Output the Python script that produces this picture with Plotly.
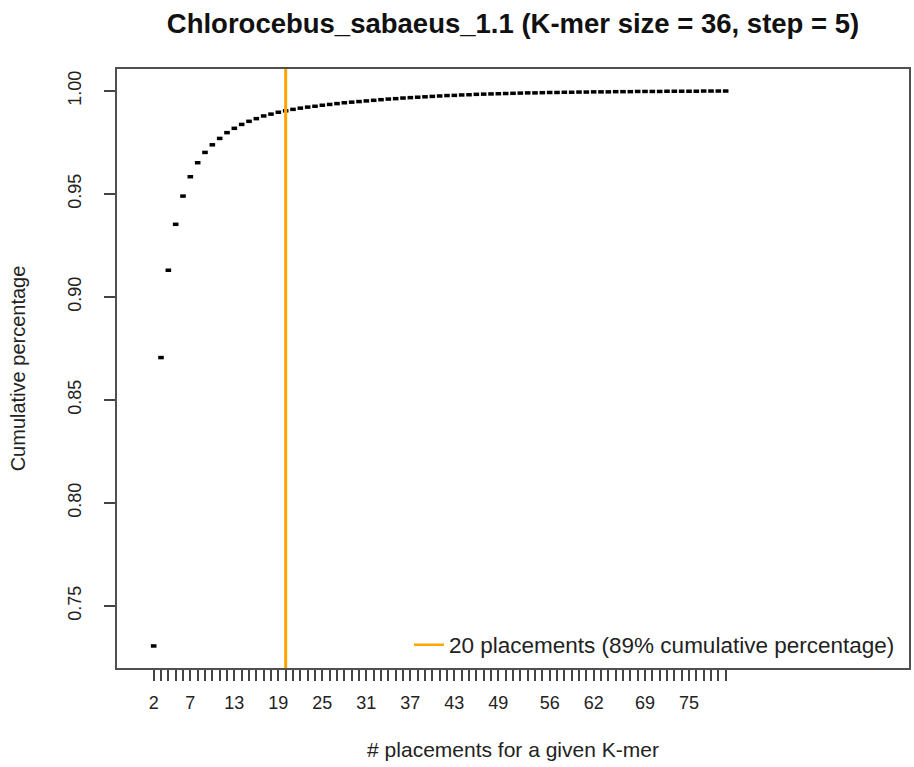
import plotly.graph_objects as go

# ---- data ----
placements = list(range(2, 81))
cumulative = [
    0.7306, 0.8706, 0.9130, 0.9353, 0.9490, 0.9584, 0.9652, 0.9702, 0.9739, 0.9770,
    0.9798, 0.9819, 0.9838, 0.9853, 0.9866, 0.9879, 0.9888, 0.9897, 0.9904, 0.9911,
    0.9917, 0.9922, 0.9926, 0.9931, 0.9935, 0.9939, 0.9943, 0.9946, 0.9949, 0.9952,
    0.9955, 0.9958, 0.9961, 0.9963, 0.9966, 0.9968, 0.9970, 0.9972, 0.9974, 0.9976,
    0.9978, 0.9979, 0.9981, 0.9982, 0.9984, 0.9985, 0.9986, 0.9987, 0.9988, 0.9989,
    0.9990, 0.9991, 0.9991, 0.9992, 0.9993, 0.9993, 0.9994, 0.9994, 0.9995, 0.9995,
    0.9996, 0.9996, 0.9996, 0.9997, 0.9997, 0.9997, 0.9998, 0.9998, 0.9998, 0.9998,
    0.9999, 0.9999, 0.9999, 0.9999, 0.9999, 1.0000, 1.0000, 1.0000, 1.0000,
]
shown_x_labels = [2, 7, 13, 19, 25, 31, 37, 43, 49, 56, 62, 69, 75]
y_ticks = [0.75, 0.80, 0.85, 0.90, 0.95, 1.00]
threshold = 20
legend_text = "20 placements (89% cumulative percentage)"
title_text = "Chlorocebus_sabaeus_1.1 (K-mer size = 36, step = 5)"

FONT = "Liberation Sans"
ORANGE = "#FFA500"
BOX = "#505050"

fig = go.Figure()
fig.add_trace(go.Scatter(
    x=placements, y=cumulative, mode="markers",
    marker=dict(symbol="line-ew", size=4, color="black",
                line=dict(color="black", width=3.5)),
    showlegend=False, hoverinfo="x+y",
))
# legend entry for the threshold line
fig.add_trace(go.Scatter(
    x=[None], y=[None], mode="lines",
    line=dict(color=ORANGE, width=2.5),
    name=legend_text, showlegend=True,
))
fig.add_vline(x=threshold, line=dict(color=ORANGE, width=3), layer="above")

ticktext = [str(v) if v in shown_x_labels else "" for v in placements]

fig.update_layout(
    width=914, height=767,
    margin=dict(l=117, r=5, t=69, b=99, autoexpand=False),
    paper_bgcolor="white", plot_bgcolor="white",
    font=dict(family=FONT, size=19, color="#222"),
    title=dict(text="<b>" + title_text + "</b>", x=(117 + 909) / 2 / 914, xanchor="center",
               y=1 - 23 / 767, yanchor="middle", font=dict(size=27.5, color="#111")),
    xaxis=dict(
        range=[-3, 105], tickmode="array", tickvals=placements, ticktext=ticktext,
        ticks="outside", ticklen=11, tickwidth=1.5, tickcolor="#444",
        showgrid=False, zeroline=False, showline=True, mirror=True,
        linecolor=BOX, linewidth=1.5, automargin=False, ticklabelstandoff=7,
        title=dict(text="# placements for a given K-mer", standoff=30, font=dict(size=21)),
        tickfont=dict(size=18),
    ),
    yaxis=dict(
        range=[0.7199, 1.0107], tickmode="array", tickvals=y_ticks,
        ticktext=["%.2f" % v for v in y_ticks], tickangle=-90,
        ticks="outside", ticklen=11, tickwidth=1.5, tickcolor="#444",
        showgrid=False, zeroline=False, showline=True, mirror=True,
        linecolor=BOX, linewidth=1.5, automargin=False, ticklabelstandoff=16,
        title=dict(text="Cumulative percentage", standoff=34, font=dict(size=20)),
        tickfont=dict(size=18),
    ),
    legend=dict(x=(409 - 117) / (909 - 117), xanchor="left",
                y=(767 - 99 - 645) / (767 - 69 - 99), yanchor="middle",
                bgcolor="rgba(0,0,0,0)", font=dict(size=22.5), itemwidth=30),
)

fig.write_html("out.html", config={"displayModeBar": False},
               post_script="document.body.style.margin='0';")
